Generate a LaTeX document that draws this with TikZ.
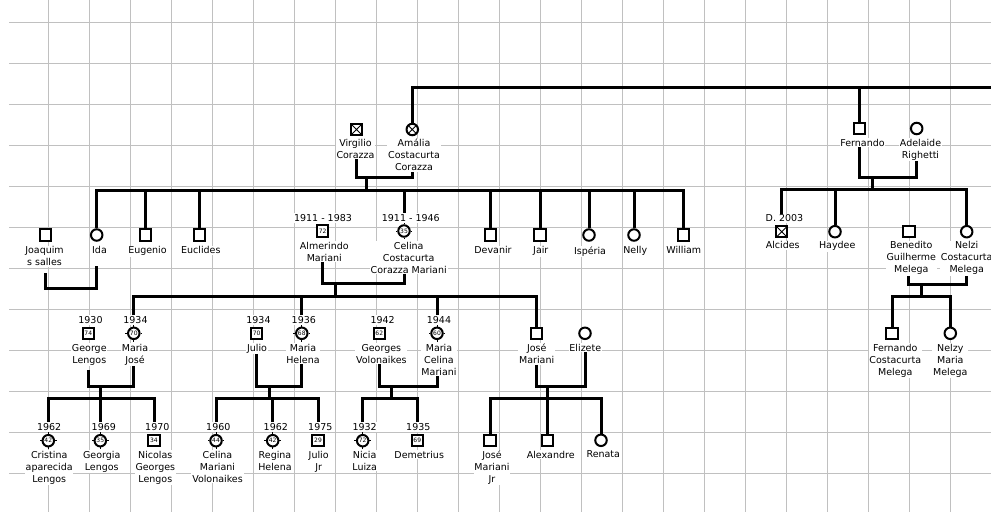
\documentclass[tikz,border=0pt]{standalone}
\usepackage{fontspec}
\setmainfont{DejaVu Sans}
\usetikzlibrary{calc}
\definecolor{gridgray}{RGB}{192,192,192}
\begin{document}
\begin{tikzpicture}[x=1pt,y=-1pt,
  gridline/.style={draw=gridgray,line width=1pt},
  conn/.style={line width=3pt},
  sym/.style={draw,line width=2pt,fill=white,minimum size=11.5pt,inner sep=0pt,font=\fontsize{6}{6}\selectfont},
  male/.style={sym,rectangle},
  female/.style={sym,circle},
  dead/.style={path picture={\draw[line width=0.9pt] (path picture bounding box.north west) -- (path picture bounding box.south east) (path picture bounding box.north east) -- (path picture bounding box.south west);}},
  lbl/.style={anchor=north,align=center,fill=white,inner sep=0.8pt,font=\fontsize{9.5}{12}\selectfont},
  yr/.style={fill=white,inner sep=1pt,font=\fontsize{9.5}{12}\selectfont},
  tickmark/.style={line width=1pt}]
\useasboundingbox (0,0) rectangle (991,512);
\fill[white] (0,0) rectangle (991,512);
% grid
\foreach \k in {0,...,11} \draw[gridline] (9,{22.3+41*\k}) -- (991,{22.3+41*\k});
\foreach \k in {0,...,22} \draw[gridline] ({48.3+41*\k},0) -- ({48.3+41*\k},512);

% ---------- generation 1 ----------
\node[male,dead] (virg) at (356.5,129.5) {};
\node[female,dead] (amal) at (412.3,129.5) {};
\node[lbl] (virgL) at (355.5,138) {Virgilio\\Corazza};
\node[lbl] (amalL) at (414,138) {Amália\\Costacurta\\Corazza};
\node[male] (fern) at (859.5,128.5) {};
\node[female] (adel) at (916.7,128.5) {};
\node[lbl] (fernL) at (862.5,138) {Fernando};
\node[lbl] (adelL) at (920.5,138) {Adelaide\\Righetti};

% ---------- generation 2 ----------
\node[male] (joaq) at (45.7,235) {};
\node[lbl] (joaqL) at (44.5,245.7) {Joaquim\\s salles};
\node[female] (ida) at (96.7,235) {};
\node[lbl] (idaL) at (99.5,245.7) {Ida};
\node[male] (eug) at (145.7,235) {};
\node[lbl] (eugL) at (147.5,245.7) {Eugenio};
\node[male] (eucl) at (199.3,235) {};
\node[lbl] (euclL) at (200.8,245.7) {Euclides};
\node[male] (alme) at (322.7,231) {72};
\node[yr] (almeY) at (323,218) {1911 - 1983};
\node[lbl] (almeL) at (324.3,241) {Almerindo\\Mariani};
\node[female] (celi) at (404,231) {35};
\node[yr] (celiY) at (410.8,218) {1911 - 1946};
\node[lbl] (celiL) at (408.7,241) {Celina\\Costacurta\\Corazza Mariani};
\node[male] (deva) at (490.3,235) {};
\node[lbl] (devaL) at (493,245.7) {Devanir};
\node[male] (jair) at (540,235) {};
\node[lbl] (jairL) at (540.8,245.7) {Jair};
\node[female] (ispe) at (589,235) {};
\node[lbl] (ispeL) at (590,245.7) {Ispéria};
\node[female] (nell) at (634,235) {};
\node[lbl] (nellL) at (635.3,245.7) {Nelly};
\node[male] (will) at (683.3,235) {};
\node[lbl] (willL) at (683.8,245.7) {William};

\node[male,dead] (alci) at (781.7,231.7) {};
\node[yr] (alciY) at (784.5,218.3) {D. 2003};
\node[lbl] (alciL) at (782.7,240.7) {Alcides};
\node[female] (hayd) at (835,231.7) {};
\node[lbl] (haydL) at (837.2,240.7) {Haydee};
\node[male] (bene) at (908.8,231.7) {};
\node[lbl] (beneL) at (911.3,240.7) {Benedito\\Guilherme\\Melega};
\node[female] (nelz) at (966.7,231.7) {};
\node[lbl] (nelzL) at (966.7,240.7) {Nelzi\\Costacurta\\Melega};

% ---------- generation 3 ----------
\node[male] (geor) at (88.3,333.3) {74};
\node[yr] (georY) at (90.5,320) {1930};
\node[lbl] (georL) at (89.3,343) {George\\Lengos};
\node[female] (mjos) at (133.8,333.3) {70};
\node[yr] (mjosY) at (135.5,320) {1934};
\node[lbl] (mjosL) at (135,343) {Maria\\José};
\node[male] (juli) at (256.7,333.3) {70};
\node[yr] (juliY) at (258.5,320) {1934};
\node[lbl] (juliL) at (257,343) {Julio};
\node[female] (mhel) at (301.8,333.3) {68};
\node[yr] (mhelY) at (303.8,320) {1936};
\node[lbl] (mhelL) at (303,343) {Maria\\Helena};
\node[male] (gvol) at (379.3,333.3) {62};
\node[yr] (gvolY) at (382.7,320) {1942};
\node[lbl] (gvolL) at (381.3,343) {Georges\\Volonaikes};
\node[female] (mcel) at (437,333.3) {60};
\node[yr] (mcelY) at (439,320) {1944};
\node[lbl] (mcelL) at (439,343) {Maria\\Celina\\Mariani};
\node[male] (jose) at (536.3,333.3) {};
\node[lbl] (joseL) at (536.7,343) {José\\Mariani};
\node[female] (eliz) at (585,333.3) {};
\node[lbl] (elizL) at (585.3,343) {Elizete};

\node[male] (fcm) at (892.2,333.3) {};
\node[lbl] (fcmL) at (895.3,343) {Fernando\\Costacurta\\Melega};
\node[female] (nmm) at (950.3,333.3) {};
\node[lbl] (nmmL) at (950.3,343) {Nelzy\\Maria\\Melega};

% ---------- generation 4 ----------
\node[female] (cris) at (48.3,440.7) {42};
\node[yr] (crisY) at (49.2,427) {1962};
\node[lbl] (crisL) at (49.2,450) {Cristina\\aparecida\\Lengos};
\node[female] (geog) at (100.3,440.7) {35};
\node[yr] (geogY) at (103.8,427) {1969};
\node[lbl] (geogL) at (101.7,450) {Georgia\\Lengos};
\node[male] (nico) at (154,440.7) {34};
\node[yr] (nicoY) at (157.3,427) {1970};
\node[lbl] (nicoL) at (155.3,450) {Nicolas\\Georges\\Lengos};
\node[female] (cmv) at (216,440.7) {44};
\node[yr] (cmvY) at (218.3,427) {1960};
\node[lbl] (cmvL) at (217.5,450) {Celina\\Mariani\\Volonaikes};
\node[female] (regi) at (272.7,440.7) {42};
\node[yr] (regiY) at (275.8,427) {1962};
\node[lbl] (regiL) at (275,450) {Regina\\Helena};
\node[male] (jjr) at (318,440.7) {29};
\node[yr] (jjrY) at (320.3,427) {1975};
\node[lbl] (jjrL) at (318.7,450) {Julio\\Jr};
\node[female] (nici) at (362.7,440.7) {72};
\node[yr] (niciY) at (364.7,427) {1932};
\node[lbl] (niciL) at (364.7,450) {Nicia\\Luiza};
\node[male] (deme) at (417.3,440.7) {69};
\node[yr] (demeY) at (418.3,427) {1935};
\node[lbl] (demeL) at (419.2,450) {Demetrius};
\node[male] (jmjr) at (490,440.3) {};
\node[lbl] (jmjrL) at (492,450) {José\\Mariani\\Jr};
\node[male] (alex) at (547.7,440.3) {};
\node[lbl] (alexL) at (550.7,450) {Alexandre};
\node[female] (rena) at (601,440.3) {};
\node[lbl] (renaL) at (603.3,450) {Renata};

% ticks on numbered circles
\foreach \n in {celi,mjos,mhel,mcel,cris,geog,cmv,regi,nici} {
  \draw[tickmark] (\n.north) -- ++(0,-1.6);
  \draw[tickmark] (\n.south) -- ++(0,1.6);
  \draw[tickmark] (\n.east) -- ++(1.6,0);
  \draw[tickmark] (\n.west) -- ++(-1.6,0);
}

% ---------- connectors ----------
\coordinate (topbar) at (1000,87.7);
\draw[conn] (amal.north) -- (amal.north |- topbar) -- (topbar);
\draw[conn] (fern.north) -- (fern.north |- topbar);

\coordinate (c1) at (366.7,177.7);
\coordinate (b2) at (0,190);
\draw[conn] (virg |- virgL.south) |- (c1) -| (amal |- amalL.south);
\draw[conn] (c1) -- (c1 |- b2);
\draw[conn] (ida.north) -- (ida.north |- b2) -| (will.north);
\foreach \n in {eug,eucl,deva,jair,ispe,nell} \draw[conn] (\n.north) -- (\n.north |- b2);
\draw[conn] (celi |- celiY.north) -- (celi |- b2);

\coordinate (c2) at (70,288.3);
\draw[conn] ($(joaq |- joaqL.south)+(0,6)$) |- (c2) -| ($(ida |- idaL.south)+(0,11)$);

\coordinate (c3) at (335,283.3);
\coordinate (b3) at (0,296.7);
\draw[conn] (alme |- almeL.south) |- (c3) -| (celi |- celiL.south);
\draw[conn] (c3) -- (c3 |- b3);
\draw[conn] (mjos |- mjosY.north) -- (mjos |- b3) -| (jose.north);
\draw[conn] (mhel |- mhelY.north) -- (mhel |- b3);
\draw[conn] (mcel |- mcelY.north) -- (mcel |- b3);

\coordinate (b4) at (0,398.3);
\coordinate (c4) at (100.7,386.7);
\coordinate (c5) at (269,386.7);
\coordinate (c6) at (391.7,386.7);
\coordinate (c7) at (547.7,386.7);
\draw[conn] ($(geor |- georL.south)+(0,4)$) |- (c4) -| (mjos |- mjosL.south);
\draw[conn] (juli |- juliL.south) |- (c5) -| (mhel |- mhelL.south);
\draw[conn] (gvol |- gvolL.south) |- (c6) -| (mcel |- mcelL.south);
\draw[conn] (jose |- joseL.south) |- (c7) -| (eliz |- elizL.south);
\foreach \c in {c4,c5,c6,c7} \draw[conn] (\c) -- (\c |- b4);

\draw[conn] (cris |- crisY.north) -- (cris |- b4) -| (nico |- nicoY.north);
\draw[conn] (geog |- geogY.north) -- (geog |- b4);
\draw[conn] (cmv |- cmvY.north) -- (cmv |- b4) -| (jjr |- jjrY.north);
\draw[conn] (regi |- regiY.north) -- (regi |- b4);
\draw[conn] (nici |- niciY.north) -- (nici |- b4) -| (deme |- demeY.north);
\draw[conn] (jmjr.north) -- (jmjr.north |- b4) -| (rena.north);
\draw[conn] (alex.north) -- (alex.north |- b4);

% right family
\coordinate (c8) at (872.3,177.7);
\coordinate (b5) at (0,189);
\draw[conn] (fern |- fernL.south) |- (c8) -| (adel |- adelL.south);
\draw[conn] (c8) -- (c8 |- b5);
\draw[conn] (alci |- alciY.north) -- (alci |- b5) -| (nelz.north);
\draw[conn] (hayd.north) -- (hayd.north |- b5);

\coordinate (c9) at (921,284);
\coordinate (b6) at (0,296);
\draw[conn] (bene |- beneL.south) |- (c9) -| (nelz |- nelzL.south);
\draw[conn] (c9) -- (c9 |- b6);
\draw[conn] (fcm.north) -- (fcm.north |- b6) -| (nmm.north);
\end{tikzpicture}
\end{document}
